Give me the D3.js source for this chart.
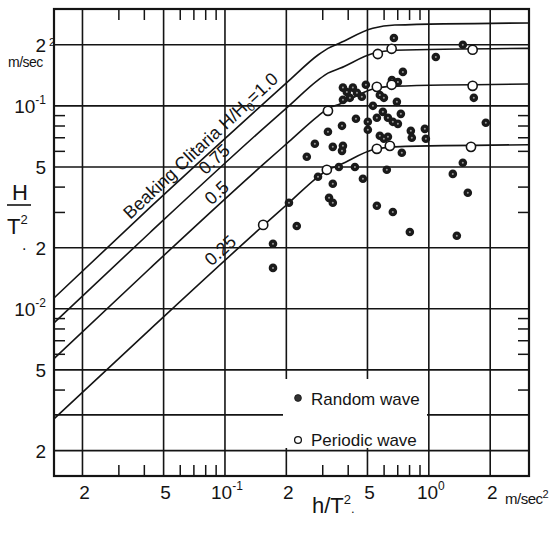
<!DOCTYPE html>
<html><head><meta charset="utf-8">
<script src="https://cdn.jsdelivr.net/npm/d3@7"></script>
<style>
body{margin:0;background:#fff}
svg{display:block}
text{font-family:"Liberation Sans",Arial,Helvetica,sans-serif;fill:#141414}
</style>
</head><body>
<svg id="c" width="556" height="536"></svg>
<script>
// ---------- data ----------
const xDomain = [0.0145, 3.1];
const yDomain = [0.0015, 0.3];
const xGrid = [0.02, 0.05, 0.1, 0.2, 0.5, 1, 2];
const yGrid = [0.002, 0.003, 0.005, 0.01, 0.02, 0.05, 0.1, 0.2];
const xMinor = [0.03, 0.04, 0.06, 0.07, 0.08, 0.09, 0.3, 0.4, 0.6, 0.7, 0.8, 0.9];
const yMinor = [0.004, 0.006, 0.007, 0.008, 0.009, 0.03, 0.04, 0.06, 0.07, 0.08, 0.09];

const xTickValues = [0.02, 0.05, 0.1, 0.2, 0.5, 1, 2];
const xTickText   = ["2", "5", "10", "2", "5", "10", "2"];
const xTickSup    = ["", "", "-1", "", "", "0", ""];
const yTickValues = [0.2, 0.1, 0.05, 0.02, 0.01, 0.005, 0.002];
const yTickText   = ["2", "10", "5", "2", "10", "5", "2"];
const yTickSup    = ["", "-1", "", "", "-2", "", ""];

// breaking criteria curves (H/H0 = 1.0, 0.75, 0.5, 0.25)
const curveX   = [0.0145, 0.0428, 0.1535, 0.206, 0.286, 0.320, 0.366, 0.531, 0.681, 3.1];
const curve100 = [0.0113, 0.0315, 0.102, 0.133, 0.178, 0.192, 0.204, 0.241, 0.250, 0.256];
const curve075 = [0.00853, 0.0237, 0.077, 0.100, 0.134, 0.145, 0.153, 0.181, 0.188, 0.192];
const curve050 = [0.00568, 0.0158, 0.0513, 0.0666, 0.089, 0.097, 0.102, 0.121, 0.125, 0.128];
const curve025 = [0.00287, 0.0079, 0.0256, 0.0333, 0.0447, 0.0484, 0.0512, 0.0607, 0.0628, 0.0643];
const curveLabelStart = [0.0355, 0.083, 0.089, 0.089];

// Random wave
const randomX = [0.674,1.082,1.468,0.746,0.659,0.705,0.491,0.379,0.396,0.424,0.444,0.469,0.410,0.379,0.575,0.602,0.697,0.532,1.662,1.903,
  0.595,0.630,0.666,0.705,0.729,0.556,0.439,0.502,0.375,0.502,0.320,0.575,0.602,0.630,0.816,0.825,0.956,0.967,0.276,0.338,
  0.379,0.375,0.252,0.737,1.468,1.311,0.622,0.434,0.362,0.286,0.475,0.338,0.324,0.338,0.206,0.556,0.666,1.553,0.807,1.372,
  0.225,0.172,0.172];
const randomY = [0.216,0.174,0.200,0.147,0.134,0.131,0.127,0.123,0.117,0.123,0.116,0.111,0.1095,0.107,0.113,0.1095,0.1046,0.100,0.1095,0.0825,
  0.0934,0.0873,0.0834,0.0815,0.0913,0.0873,0.0863,0.0834,0.0797,0.0762,0.0745,0.0712,0.0688,0.0704,0.0753,0.0696,0.0770,0.0688,0.0650,0.0628,
  0.0635,0.0600,0.0561,0.0587,0.0524,0.0462,0.0484,0.0500,0.0500,0.0447,0.0437,0.0413,0.0352,0.0333,0.0333,0.0322,0.0300,0.0373,0.0239,0.0229,
  0.0256,0.0209,0.0159];
// Periodic wave
const periodicX = [0.154,0.316,0.320,0.556,0.644,0.556,0.657,0.562,0.657,1.61,1.64,1.64];
const periodicY = [0.0259,0.0484,0.0945,0.0614,0.0635,0.124,0.127,0.180,0.191,0.0628,0.1255,0.189];

// ---------- drawing ----------
const ink = "#141414";
const svg = d3.select("#c");
const L = 54, R = 529, T = 9, B = 476;
const x = d3.scaleLog().domain(xDomain).range([L, R]);
const y = d3.scaleLog().domain(yDomain).range([B, T]);

// grid
const g = svg.append("g");
g.selectAll(".vx").data(xGrid).join("line")
  .attr("x1", d => x(d)).attr("x2", d => x(d)).attr("y1", T).attr("y2", B)
  .attr("stroke", ink).attr("stroke-width", 1.6);
g.selectAll(".hy").data(yGrid).join("line")
  .attr("y1", d => y(d)).attr("y2", d => y(d)).attr("x1", L).attr("x2", R)
  .attr("stroke", ink).attr("stroke-width", 1.6);

// curves
const line = d3.line().x(d => x(d[0])).y(d => y(d[1])).curve(d3.curveMonotoneX);
const curves = [curve100, curve075, curve050, curve025];
curves.forEach(c => {
  svg.append("path").attr("d", line(curveX.map((v, i) => [v, c[i]])))
    .attr("fill", "none").attr("stroke", ink).attr("stroke-width", 1.6);
});

// curve labels
function curveAt(cy, xv) {
  for (let i = 0; i < curveX.length - 1; i++) {
    if (xv >= curveX[i] && xv <= curveX[i + 1]) {
      const t = Math.log(xv / curveX[i]) / Math.log(curveX[i + 1] / curveX[i]);
      return cy[i] * Math.pow(cy[i + 1] / cy[i], t);
    }
  }
  return cy[cy.length - 1];
}
curves.forEach((c, k) => {
  const xv = curveLabelStart[k];
  const px = x(xv), py = y(curveAt(c, xv));
  const px2 = x(xv * 1.3), py2 = y(curveAt(c, xv * 1.3));
  const ang = Math.atan2(py2 - py, px2 - px) * 180 / Math.PI;
  const off = 4.5;
  const rad = ang * Math.PI / 180;
  const ox = px + off * Math.sin(rad), oy = py - off * Math.cos(rad);
  const t = svg.append("text").attr("font-size", 18)
    .attr("transform", `translate(${ox},${oy}) rotate(${ang})`);
  if (k === 0) {
    t.append("tspan").text("Beaking Clitaria H/H");
    t.append("tspan").attr("font-size", 12).attr("dy", 4).text("0");
    t.append("tspan").attr("dy", -4).text("=1.0");
  } else {
    t.text(["", "0.75", "0.5", "0.25"][k]);
  }
});

// legend box
svg.append("rect").attr("x", 283).attr("y", 379).attr("width", 144).attr("height", 69).attr("fill", "#fff");
svg.append("circle").attr("cx", 298).attr("cy", 398).attr("r", 3.4).attr("fill", "#333").attr("stroke", ink).attr("stroke-width", 0.8);
svg.append("circle").attr("cx", 298).attr("cy", 440).attr("r", 3.4).attr("fill", "#fff").attr("stroke", ink).attr("stroke-width", 1.3);
svg.append("text").attr("x", 311).attr("y", 405).attr("font-size", 17).text("Random wave");
svg.append("text").attr("x", 311).attr("y", 446).attr("font-size", 17).text("Periodic wave");

// minor ticks via axes
const tk = 11;
svg.append("g").attr("transform", `translate(0,${B})`)
  .call(d3.axisTop(x).tickValues(xMinor).tickSize(tk).tickFormat(""))
  .call(s => s.select(".domain").remove());
svg.append("g").attr("transform", `translate(0,${T})`)
  .call(d3.axisBottom(x).tickValues(xMinor).tickSize(tk).tickFormat(""))
  .call(s => s.select(".domain").remove());
svg.append("g").attr("transform", `translate(${L},0)`)
  .call(d3.axisRight(y).tickValues(yMinor).tickSize(tk).tickFormat(""))
  .call(s => s.select(".domain").remove());
svg.append("g").attr("transform", `translate(${R},0)`)
  .call(d3.axisLeft(y).tickValues(yMinor).tickSize(tk).tickFormat(""))
  .call(s => s.select(".domain").remove());
svg.selectAll(".tick line").attr("stroke", ink).attr("stroke-width", 1.5);

// frame
svg.append("rect").attr("x", L).attr("y", T).attr("width", R - L).attr("height", B - T)
  .attr("fill", "none").attr("stroke", ink).attr("stroke-width", 2.2);

// data points
const rnd = randomX.map((v, i) => [v, randomY[i]]);
svg.append("g").selectAll("circle").data(rnd).join("circle")
  .attr("cx", d => x(d[0])).attr("cy", d => y(d[1])).attr("r", 4.3).attr("fill", "#1a1a1a");
svg.append("g").selectAll("circle").data(rnd).join("circle")
  .attr("cx", d => x(d[0])).attr("cy", d => y(d[1])).attr("r", 1).attr("fill", "#9a9a9a");
const per = periodicX.map((v, i) => [v, periodicY[i]]);
svg.append("g").selectAll("circle").data(per).join("circle")
  .attr("cx", d => x(d[0])).attr("cy", d => y(d[1])).attr("r", 4.6)
  .attr("fill", "#fff").attr("stroke", ink).attr("stroke-width", 1.6);

// x tick labels
xTickValues.forEach((v, i) => {
  const t = svg.append("text").attr("x", x(v) + 2).attr("y", 499)
    .attr("text-anchor", "middle").attr("font-size", 19);
  t.append("tspan").text(xTickText[i]);
  if (xTickSup[i]) t.append("tspan").attr("dy", -9).attr("font-size", 12).text(xTickSup[i]);
});
// y tick labels
yTickValues.forEach((v, i) => {
  const t = svg.append("text").attr("x", 46).attr("y", y(v) + 7)
    .attr("text-anchor", "end").attr("font-size", 19);
  t.append("tspan").text(yTickText[i]);
  if (yTickSup[i]) t.append("tspan").attr("dy", -9).attr("font-size", 12).text(yTickSup[i]);
});
svg.append("text").attr("x", 22).attr("y", 250).attr("font-size", 16).text(".");

// units
svg.append("text").attr("x", 49).attr("y", 46).attr("font-size", 11).text("2");
svg.append("text").attr("x", 8).attr("y", 67).attr("font-size", 14).attr("letter-spacing", -0.5).text("m/sec");
svg.append("text").attr("x", 505).attr("y", 504).attr("font-size", 15).attr("letter-spacing", -0.5)
  .call(t => { t.append("tspan").text("m/sec"); t.append("tspan").attr("dy", -6).attr("font-size", 11).text("2"); });

// axis titles
svg.append("text").attr("x", 312).attr("y", 513).attr("font-size", 22)
  .call(t => { t.append("tspan").text("h/T"); t.append("tspan").attr("dy", -9).attr("font-size", 13).text("2"); t.append("tspan").attr("dy", 9).attr("font-size", 13).text("."); });
svg.append("text").attr("x", 12).attr("y", 200).attr("font-size", 22).text("H");
svg.append("line").attr("x1", 7).attr("x2", 31).attr("y1", 205).attr("y2", 205).attr("stroke", ink).attr("stroke-width", 1.6);
svg.append("text").attr("x", 7).attr("y", 234).attr("font-size", 22)
  .call(t => { t.append("tspan").text("T"); t.append("tspan").attr("dy", -10).attr("font-size", 13).text("2"); });
</script>
</body></html>
